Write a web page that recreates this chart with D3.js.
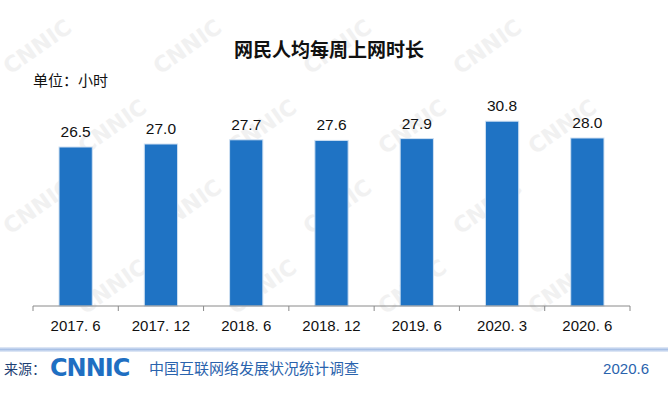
<!DOCTYPE html>
<html>
<head>
<meta charset="utf-8">
<script src="https://cdn.jsdelivr.net/npm/d3@7/dist/d3.min.js"></script>
<style>
  body { margin: 0; background: #fff; }
  svg { display: block; font-family: "Liberation Sans", Arial, "Noto Sans CJK SC", sans-serif; }
</style>
</head>
<body>
<svg id="chart" width="668" height="397"></svg>
<script>
// data
const categories = ['2017. 6', '2017. 12', '2018. 6', '2018. 12', '2019. 6', '2020. 3', '2020. 6'];
const hours = [26.5, 27.0, 27.7, 27.6, 27.9, 30.8, 28.0];

const svg = d3.select('#chart'),
  width = +svg.attr('width'),
  height = +svg.attr('height');

const cjk = '"Noto Sans CJK SC", "Liberation Sans", sans-serif';

// faint watermark, only copies that fit inside the picture
const wm = svg.append('g').attr('fill', '#f1f1f1').attr('font-weight', 'bold')
  .attr('font-size', 22).attr('font-family', '"DejaVu Sans", sans-serif');
for (let r = 0; r < 6; r++) {
  for (let c = 0; c < 7; c++) {
    const px = c * 150 + (r % 2) * 75 + 10, py = r * 80 + 75;
    if (px + 80 > width || py > height - 50 || py - 50 < 0) continue;
    wm.append('text').attr('transform', `translate(${px},${py}) rotate(-35)`).text('CNNIC');
  }
}

const margin = { left: 33, right: 38, top: 90, bottom: 91 };

const x = d3.scaleBand()
  .domain(categories)
  .range([margin.left, width - margin.right])
  .paddingInner(0.61)
  .paddingOuter(0.305);

const y = d3.scaleLinear()
  .domain([0, 36])
  .range([height - margin.bottom, height - margin.bottom - 216]);

// title
svg.append('text')
  .attr('x', 329).attr('y', 57)
  .attr('text-anchor', 'middle')
  .attr('font-family', cjk)
  .attr('font-weight', 'bold')
  .attr('font-size', 19)
  .attr('fill', '#111')
  .text('网民人均每周上网时长');

svg.append('text')
  .attr('x', 33).attr('y', 86)
  .attr('font-family', cjk)
  .attr('font-size', 15)
  .attr('fill', '#111')
  .text('单位：小时');

// bars
svg.append('g')
  .selectAll('rect')
  .data(hours)
  .enter()
  .append('rect')
  .attr('x', (d, i) => x(categories[i]))
  .attr('y', (d) => y(d))
  .attr('width', x.bandwidth())
  .attr('height', (d) => y(0) - y(d))
  .attr('fill', '#1f73c4')
  .attr('stroke', '#cfe0f2')
  .attr('stroke-width', 1);

// value labels
svg.append('g')
  .selectAll('text')
  .data(hours)
  .enter()
  .append('text')
  .attr('x', (d, i) => x(categories[i]) + x.bandwidth() / 2)
  .attr('y', (d) => y(d) - 10)
  .attr('text-anchor', 'middle')
  .attr('font-size', 15.5)
  .attr('fill', '#111')
  .text((d) => d.toFixed(1));

// x axis, ticks between categories
const xAxis = svg.append('g')
  .attr('transform', `translate(0,${y(0)})`);
xAxis.append('line')
  .attr('x1', margin.left).attr('x2', width - margin.right)
  .attr('stroke', '#8a8a8a');
const step = x.step();
xAxis.selectAll('line.tick')
  .data(d3.range(categories.length + 1))
  .enter()
  .append('line')
  .attr('class', 'tick')
  .attr('x1', (i) => margin.left + i * step)
  .attr('x2', (i) => margin.left + i * step)
  .attr('y2', 5)
  .attr('stroke', '#8a8a8a');
xAxis.selectAll('text')
  .data(categories)
  .enter()
  .append('text')
  .attr('x', (d) => x(d) + x.bandwidth() / 2)
  .attr('y', 25)
  .attr('text-anchor', 'middle')
  .attr('font-size', 15)
  .attr('fill', '#111')
  .text((d) => d);

// footer
const grad = svg.append('defs').append('linearGradient')
  .attr('id', 'fl').attr('x1', 0).attr('x2', 0).attr('y1', 0).attr('y2', 1);
grad.append('stop').attr('offset', '0%').attr('stop-color', '#e8eef8');
grad.append('stop').attr('offset', '50%').attr('stop-color', '#a9c1e6');
grad.append('stop').attr('offset', '100%').attr('stop-color', '#e8eef8');
svg.append('rect')
  .attr('x', 0).attr('y', 347).attr('width', width).attr('height', 5)
  .attr('fill', 'url(#fl)');

svg.append('text')
  .attr('x', 4).attr('y', 374)
  .attr('font-family', cjk)
  .attr('font-size', 14)
  .attr('fill', '#1d3f73')
  .text('来源：');
svg.append('text')
  .attr('x', 50).attr('y', 376)
  .attr('font-family', '"DejaVu Sans", sans-serif')
  .attr('font-weight', 'bold')
  .attr('font-size', 24)
  .attr('letter-spacing', -1)
  .attr('fill', '#1f6fc2')
  .text('CNNIC');
svg.append('text')
  .attr('x', 149).attr('y', 374)
  .attr('font-family', cjk)
  .attr('font-size', 15)
  .attr('fill', '#2a63ad')
  .text('中国互联网络发展状况统计调查');
svg.append('text')
  .attr('x', 649).attr('y', 374)
  .attr('text-anchor', 'end')
  .attr('font-size', 15)
  .attr('fill', '#2a63ad')
  .text('2020.6');
</script>
</body>
</html>
